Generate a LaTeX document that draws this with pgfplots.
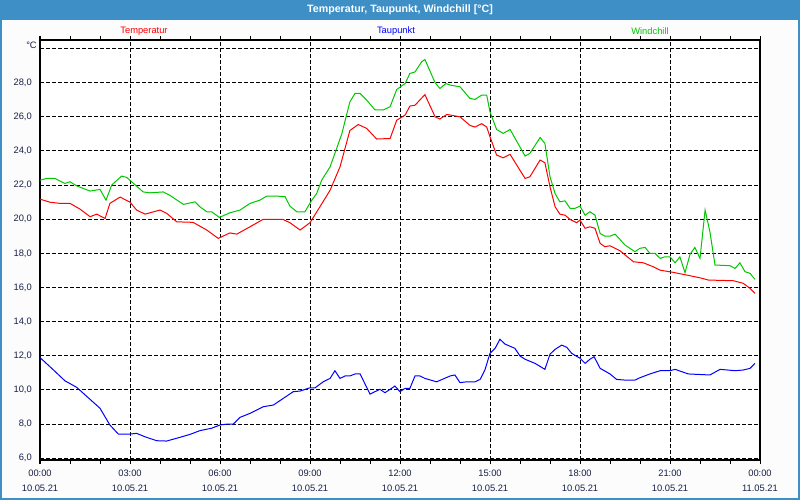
\documentclass[border=0pt]{standalone}
\usepackage{pgfplots}
\pgfplotsset{compat=1.18}
\usepackage{fontspec}
\setmainfont{Liberation Sans}
\definecolor{titleblue}{RGB}{61,143,198}
\definecolor{bgc}{RGB}{251,252,251}
\definecolor{tickc}{RGB}{24,32,72}
\definecolor{tred}{RGB}{255,0,0}
\definecolor{tgreen}{RGB}{0,200,0}
\definecolor{tblue}{RGB}{0,0,255}
\begin{document}
\begin{tikzpicture}
\useasboundingbox (0,0) rectangle (600pt,375pt);
\fill[bgc] (0,0) rectangle (600pt,375pt);
\fill[titleblue] (0,360pt) rectangle (600pt,375pt);
\draw[titleblue,line width=1.5pt] (0.75pt,0.75pt) rectangle (599.25pt,374.25pt);
\node[white,font=\fontsize{8}{9}\selectfont\bfseries] at (300pt,367.5pt) {Temperatur, Taupunkt, Windchill [°C]};
\node[tred,font=\fontsize{7}{8}\selectfont] at (108pt,351.75pt) {Temperatur};
\node[tblue,font=\fontsize{7}{8}\selectfont] at (297pt,351.75pt) {Taupunkt};
\node[tgreen,font=\fontsize{7}{8}\selectfont] at (487.5pt,351.75pt) {Windchill};
\node[tickc,anchor=east,inner sep=0pt,font=\fontsize{7}{8}\selectfont] at (27.75pt,341.25pt) {°C};
\begin{axis}[
  at={(30pt,30pt)}, anchor=south west,
  width=540pt, height=315pt, scale only axis,
  xmin=0, xmax=24, ymin=5.9, ymax=30.5,
  axis background/.style={fill=white},
  axis line style={black,line width=1pt},
  xtick={0,3,...,24},
  xticklabels={{00:00\\10.05.21},{03:00\\10.05.21},{06:00\\10.05.21},{09:00\\10.05.21},{12:00\\10.05.21},{15:00\\10.05.21},{18:00\\10.05.21},{21:00\\10.05.21},{00:00\\11.05.21}},
  ytick={6,8,...,30},
  yticklabels={{6,0},{8,0},{10,0},{12,0},{14,0},{16,0},{18,0},{20,0},{22,0},{24,0},{26,0},{28,0},{}},
  minor x tick num=2,
  tick align=outside,
  major tick length=3pt, minor tick length=3pt,
  xtick style={black,line width=0.75pt},
  ytick style={draw=none},
  grid=major,
  major grid style={black,line width=0.75pt,dash pattern=on 3pt off 1.5pt},
  x tick label style={tickc,align=center,anchor=north,inner sep=0pt,yshift=-4.5pt,font=\fontsize{7}{11}\selectfont},
  y tick label style={tickc,anchor=east,inner sep=0pt,xshift=-3pt,font=\fontsize{7}{8}\selectfont},
  clip=true,
]
% Taupunkt
\addplot[tblue,line width=0.75pt] coordinates {
(0.0,11.9)(0.39,11.27)(0.83,10.54)(1.22,10.16)(1.67,9.45)(2.0,8.93)(2.33,7.95)(2.61,7.42)
(3.0,7.42)(3.22,7.46)(3.5,7.26)(3.89,7.03)(4.22,7.01)(4.67,7.23)(5.0,7.4)(5.33,7.62)
(5.72,7.76)(6.0,7.95)(6.22,8.0)(6.44,8.0)(6.67,8.4)(7.0,8.63)(7.44,9.02)(7.78,9.12)
(8.11,9.51)(8.44,9.9)(8.67,9.94)(9.0,10.13)(9.17,10.13)(9.44,10.48)(9.67,10.68)(9.83,11.13)
(10.0,10.68)(10.17,10.82)(10.33,10.82)(10.5,10.94)(10.67,10.94)(11.0,9.76)(11.33,10.04)(11.5,9.84)
(11.83,10.23)(12.0,9.9)(12.17,10.1)(12.33,10.1)(12.5,10.82)(12.67,10.82)(12.83,10.68)(13.22,10.48)
(13.67,10.82)(13.83,10.88)(14.0,10.43)(14.22,10.48)(14.5,10.48)(14.67,10.62)(14.83,11.17)(15.0,12.15)
(15.17,12.44)(15.33,12.97)(15.5,12.69)(15.83,12.44)(16.0,11.99)(16.17,11.8)(16.5,11.56)(16.83,11.21)
(17.0,12.1)(17.17,12.38)(17.39,12.63)(17.56,12.5)(17.72,12.15)(18.0,11.86)(18.17,11.56)(18.33,11.8)
(18.47,11.95)(18.67,11.27)(19.0,10.94)(19.22,10.62)(19.5,10.58)(19.83,10.58)(20.0,10.72)(20.33,10.94)
(20.67,11.13)(21.0,11.13)(21.17,11.21)(21.61,10.94)(22.33,10.88)(22.67,11.21)(23.17,11.13)(23.44,11.17)
(23.67,11.27)(23.83,11.56)
};
% Windchill
\addplot[tgreen,line width=0.75pt] coordinates {
(0.0,22.29)(0.22,22.39)(0.5,22.39)(0.83,22.1)(1.0,22.2)(1.22,21.96)(1.67,21.65)(2.0,21.75)
(2.2,21.12)(2.39,22.0)(2.72,22.53)(2.89,22.45)(3.22,21.94)(3.44,21.6)(3.67,21.55)(4.11,21.6)
(4.33,21.4)(4.78,20.87)(5.17,21.02)(5.33,20.73)(5.56,20.44)(5.72,20.44)(5.98,20.11)(6.33,20.38)
(6.67,20.54)(7.0,20.93)(7.33,21.12)(7.56,21.36)(7.89,21.36)(8.17,21.32)(8.33,20.77)(8.56,20.44)
(8.83,20.44)(9.06,21.12)(9.22,21.5)(9.39,22.29)(9.67,23.07)(9.83,23.86)(10.06,25.0)(10.33,26.88)
(10.5,27.37)(10.67,27.37)(10.89,26.98)(11.17,26.4)(11.44,26.4)(11.67,26.59)(11.89,27.6)(12.17,27.95)
(12.33,28.54)(12.5,28.63)(12.72,29.22)(12.83,29.36)(13.17,28.0)(13.33,27.66)(13.53,27.95)(13.67,27.86)
(14.0,27.76)(14.33,27.08)(14.5,27.02)(14.72,27.27)(14.89,27.27)(15.0,26.29)(15.22,25.26)(15.44,25.03)
(15.67,25.26)(16.17,23.7)(16.33,23.86)(16.67,24.79)(16.83,24.44)(17.0,22.49)(17.17,21.5)(17.33,21.02)
(17.5,21.08)(17.67,20.64)(17.83,20.64)(18.0,20.77)(18.17,20.24)(18.33,20.44)(18.5,20.24)(18.67,19.17)
(18.83,19.01)(19.0,19.01)(19.17,19.13)(19.5,18.49)(19.83,18.1)(20.0,18.3)(20.17,18.35)(20.33,18.0)
(20.5,18.0)(20.67,17.71)(20.83,17.8)(21.0,17.8)(21.17,17.45)(21.33,17.8)(21.5,16.87)(21.67,17.96)
(21.83,18.35)(22.0,17.71)(22.17,20.54)(22.33,19.27)(22.5,17.32)(23.0,17.28)(23.17,17.12)(23.33,17.45)
(23.5,16.93)(23.67,16.83)(23.83,16.48)
};
% Temperatur
\addplot[tred,line width=0.75pt] coordinates {
(0.0,21.18)(0.33,21.0)(0.67,20.93)(1.0,20.93)(1.33,20.6)(1.67,20.15)(1.89,20.3)(2.17,20.05)
(2.33,20.93)(2.67,21.3)(3.0,21.0)(3.22,20.54)(3.5,20.3)(4.0,20.54)(4.22,20.35)(4.56,19.85)
(5.1,19.82)(5.56,19.37)(5.94,18.88)(6.33,19.2)(6.56,19.13)(7.0,19.56)(7.43,19.99)(8.1,19.99)
(8.33,19.8)(8.67,19.37)(9.0,19.8)(9.33,20.73)(9.67,21.7)(10.0,23.07)(10.33,25.2)(10.61,25.55)
(10.89,25.32)(11.22,24.7)(11.67,24.73)(11.89,25.8)(12.17,26.1)(12.33,26.63)(12.5,26.68)(12.83,27.3)
(13.17,26.0)(13.33,25.87)(13.56,26.14)(14.0,26.0)(14.33,25.5)(14.5,25.4)(14.72,25.6)(14.89,25.4)
(15.0,24.83)(15.22,23.76)(15.44,23.6)(15.67,23.8)(16.17,22.39)(16.33,22.49)(16.67,23.47)(16.83,23.31)
(17.0,21.9)(17.17,20.73)(17.33,20.3)(17.5,20.24)(17.67,19.99)(17.89,19.8)(18.0,19.95)(18.17,19.47)
(18.33,19.56)(18.5,19.47)(18.67,18.59)(18.83,18.39)(19.0,18.45)(19.33,18.16)(19.78,17.51)(20.11,17.45)
(20.44,17.22)(20.67,17.02)(21.11,16.89)(21.56,16.73)(22.0,16.57)(22.28,16.44)(23.11,16.4)(23.44,16.25)
(23.67,15.95)(23.83,15.66)
};
\end{axis}
\end{tikzpicture}
\end{document}
